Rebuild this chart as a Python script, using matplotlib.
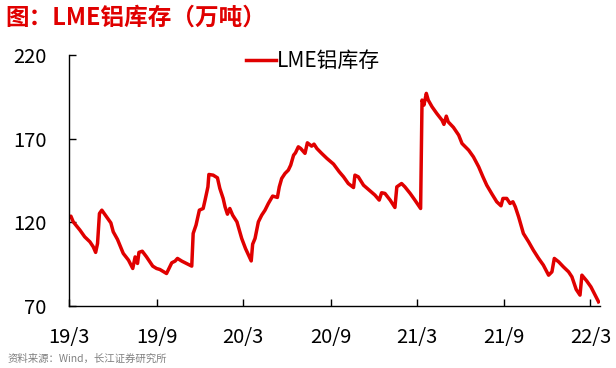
import matplotlib
matplotlib.use("Agg")
import matplotlib.pyplot as plt
import numpy as np
import pandas as pd

plt.rcParams['font.family'] = ['Noto Sans CJK SC', 'DejaVu Sans']

# LME铝库存，万吨
dates = [
    "2019-03-01", "2019-03-05", "2019-03-10", "2019-03-24", "2019-04-03", "2019-04-14",
    "2019-04-21", "2019-04-26", "2019-04-30", "2019-05-04", "2019-05-09", "2019-05-19",
    "2019-05-28", "2019-06-02", "2019-06-11", "2019-06-16", "2019-06-23", "2019-07-04",
    "2019-07-13", "2019-07-18", "2019-07-23", "2019-07-26", "2019-08-02", "2019-08-11",
    "2019-08-24", "2019-09-01", "2019-09-08", "2019-09-22", "2019-10-03", "2019-10-10",
    "2019-10-15", "2019-10-24", "2019-11-03", "2019-11-14", "2019-11-17", "2019-11-23",
    "2019-11-30", "2019-12-08", "2019-12-12", "2019-12-18", "2019-12-20", "2019-12-29",
    "2020-01-07", "2020-01-12", "2020-01-19", "2020-01-23", "2020-01-28", "2020-02-02",
    "2020-02-08", "2020-02-17", "2020-02-27", "2020-03-06", "2020-03-14", "2020-03-18",
    "2020-03-21", "2020-03-26", "2020-04-02", "2020-04-09", "2020-04-16", "2020-04-23",
    "2020-05-02", "2020-05-12", "2020-05-16", "2020-05-21", "2020-05-28", "2020-06-04",
    "2020-06-09", "2020-06-15", "2020-06-19", "2020-06-25", "2020-06-30", "2020-07-09",
    "2020-07-14", "2020-07-23", "2020-07-28", "2020-08-03", "2020-08-13", "2020-08-24",
    "2020-09-07", "2020-09-19", "2020-09-28", "2020-10-08", "2020-10-19", "2020-10-22",
    "2020-10-29", "2020-11-09", "2020-11-23", "2020-12-03", "2020-12-12", "2020-12-17",
    "2020-12-24", "2021-01-04", "2021-01-14", "2021-01-18", "2021-01-28", "2021-02-04",
    "2021-02-15", "2021-02-25", "2021-03-09", "2021-03-12", "2021-03-16", "2021-03-21",
    "2021-03-25", "2021-04-02", "2021-04-12", "2021-04-23", "2021-04-27", "2021-05-02",
    "2021-05-06", "2021-05-17", "2021-05-28", "2021-06-04", "2021-06-11", "2021-06-18",
    "2021-06-28", "2021-07-09", "2021-07-18", "2021-07-26", "2021-08-06", "2021-08-16",
    "2021-08-25", "2021-08-29", "2021-09-06", "2021-09-13", "2021-09-19", "2021-09-24",
    "2021-10-01", "2021-10-11", "2021-10-22", "2021-11-01", "2021-11-12", "2021-11-22",
    "2021-12-03", "2021-12-10", "2021-12-15", "2021-12-24", "2022-01-03", "2022-01-14",
    "2022-01-21", "2022-01-30", "2022-02-07", "2022-02-11", "2022-02-21", "2022-03-02",
    "2022-03-09", "2022-03-18",
]
stock = [
    123.3, 123.7, 120.3, 115.4, 111.4, 108.4,
    105.4, 102.1, 107.4, 125.3, 127.3, 123.3,
    119.7, 114.4, 109.8, 106.4, 101.5, 97.5,
    92.5, 99.4, 95.5, 102.1, 102.8, 99.4,
    93.9, 92.5, 91.9, 89.5, 95.9, 96.9,
    98.5, 96.9, 95.5, 93.9, 113.4, 118.4,
    127.3, 128.3, 133.3, 141.2, 148.6, 148.2,
    146.6, 140.3, 134.3, 129.3, 124.9, 128.3,
    124.3, 120.3, 110.4, 104.4, 99.4, 97.0,
    107.0, 110.4, 120.3, 124.3, 127.3, 131.3,
    135.7, 134.9, 141.2, 146.2, 149.2, 151.2,
    154.2, 160.1, 161.5, 165.1, 164.1, 161.2,
    167.5, 165.5, 166.7, 164.1, 161.2, 158.2,
    154.8, 150.2, 147.2, 143.2, 140.8, 148.2,
    147.2, 142.2, 138.8, 136.3, 133.3, 137.7,
    137.3, 133.3, 128.9, 141.2, 143.2, 141.2,
    137.3, 133.3, 128.3, 193.0, 190.0, 197.0,
    193.0, 189.0, 185.0, 181.0, 178.5, 183.4,
    180.0, 176.7, 172.1, 167.1, 165.1, 163.1,
    159.1, 153.2, 147.2, 142.2, 136.9, 132.3,
    129.9, 134.3, 134.3, 131.3, 132.3, 129.3,
    123.3, 113.4, 108.4, 103.4, 98.5, 94.5,
    88.5, 90.5, 98.5, 96.5, 93.5, 90.5,
    87.5, 80.0, 76.6, 88.5, 85.1, 81.5,
    77.6, 72.6,
]
x_ticks = ["2019-03-01", "2019-09-01", "2020-03-01", "2020-09-01",
           "2021-03-01", "2021-09-01", "2022-03-01"]
x_labels = ["19/3", "19/9", "20/3", "20/9", "21/3", "21/9", "22/3"]
y_ticks = [70, 120, 170, 220]

red = '#E00000'

fig = plt.figure(figsize=(6.16, 3.68), dpi=100)
ax = fig.add_axes([0.112, 0.168, 0.862, 0.683])

ax.plot(pd.to_datetime(dates), stock, color=red, lw=2.5, label='LME铝库存')

ax.set_xlim(pd.Timestamp("2019-03-01"), pd.Timestamp("2022-03-21"))
ax.set_ylim(70, 220)
ax.set_yticks(y_ticks)
ax.set_xticks(pd.to_datetime(x_ticks))
ax.set_xticklabels(x_labels)

for s in ['top', 'right']:
    ax.spines[s].set_visible(False)
ax.spines['left'].set_linewidth(1.0)
ax.spines['bottom'].set_linewidth(1.0)
ax.tick_params(axis='both', direction='in', length=5, width=1.0, labelsize=14.5)
ax.tick_params(axis='x', pad=15)
ax.tick_params(axis='y', pad=16)

ax.legend(loc='center left', bbox_to_anchor=(246 / 616, 1 - 61 / 368),
          bbox_transform=fig.transFigure, frameon=False, borderpad=0,
          borderaxespad=0, fontsize=15, handlelength=1.45, handletextpad=0.05)

fig.text(0.008, 1 - 18 / 368, '图：LME铝库存（万吨）', color=red, fontsize=17,
         fontweight='bold', va='center', ha='left')
fig.text(0.012, 1 - 359 / 368, '资料来源：Wind，长江证券研究所', color='#808080',
         fontsize=7.5, va='center', ha='left')

fig.savefig('out.png', dpi=100)
